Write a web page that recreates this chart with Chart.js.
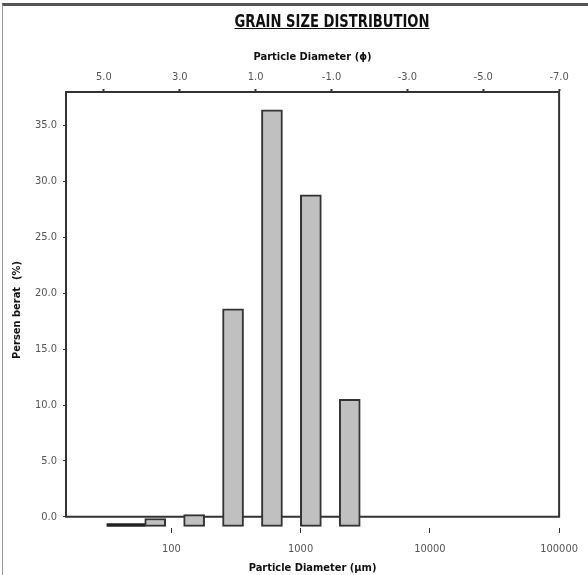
<!DOCTYPE html>
<html>

<head>
  <title>Grain Size Distribution</title>
  <script src="https://cdn.jsdelivr.net/npm/chart.js@4.4.0/dist/chart.umd.min.js"></script>
  <style>
    body { margin: 0; background: #fff; }
    #wrap { position: relative; width: 588px; height: 575px; overflow: hidden; }
    #chart { position: absolute; left: 0; top: 0; }
    /* outer frame of the original figure */
    #frame { position: absolute; left: 2px; top: 3px; right: -2px; bottom: -2px; border-top: 3px solid #555; border-left: 1px solid #999; pointer-events: none; }
    #title { position: absolute; top: 11px; left: 0; width: 664px; text-align: center; font: bold 17px 'Liberation Sans Narrow', 'Arial Narrow', 'DejaVu Sans Condensed', sans-serif; text-decoration: underline; color: #111; transform: scaleX(0.86); transform-origin: 332px 0; }
  </style>
</head>

<body>
  <div id="wrap">
    <canvas id="chart" width="588" height="575"></canvas>
    <div id="frame"></div>
    <div id="title">GRAIN SIZE DISTRIBUTION</div>
  </div>
  <script>
    // bar centres in micron and weight percent per class
    const sizeMicron = [75, 150, 300, 600, 1200, 2400];
    const weightPercent = [-0.15, 0.2, 18.6, 36.4, 28.8, 10.5];
    const barBase = -0.85; // bars hang a little below zero in the original
    // the flat dark bar at the fine end
    const panSize = [44.5];
    const panTop = [-0.6];

    const micronTicks = [100, 1000, 10000, 100000];
    const phiTicks = [5, 3, 1, -1, -3, -5, -7];
    const percentTicks = [0, 5, 10, 15, 20, 25, 30, 35];

    const narrow = "'Liberation Sans Narrow', 'Arial Narrow', 'DejaVu Sans Condensed', sans-serif";
    Chart.defaults.font.family = narrow;
    Chart.defaults.font.size = 11;

    var bars = sizeMicron.map(function (d, i) {
      return { x: d, y: [barBase, weightPercent[i]] };
    });
    var pan = panSize.map(function (d, i) {
      return { x: d, y: [barBase, panTop[i]] };
    });

    // plot box: top comes from the phi axis border, the rest stops at 0.0
    const plotBox = {
      id: 'plotBox',
      beforeDatasetsDraw: function (chart) {
        var a = chart.chartArea;
        var y0 = chart.scales.y.getPixelForValue(0);
        var ctx = chart.ctx;
        ctx.save();
        ctx.strokeStyle = '#333';
        ctx.lineWidth = 2;
        ctx.beginPath();
        ctx.moveTo(a.left, a.top);
        ctx.lineTo(a.left, y0);
        ctx.lineTo(a.right, y0);
        ctx.lineTo(a.right, a.top);
        ctx.stroke();
        ctx.restore();
      }
    };

    new Chart(document.getElementById('chart'), {
      type: 'bar',
      data: {
        datasets: [
          {
            label: 'Persen berat',
            data: bars,
            backgroundColor: '#c0c0c0',
            borderColor: '#333',
            borderWidth: 2,
            borderSkipped: false,
            barThickness: 21,
            grouped: false,
            xAxisID: 'x',
            yAxisID: 'y'
          },
          {
            label: 'pan',
            data: pan,
            backgroundColor: '#222',
            borderWidth: 0,
            barThickness: 38,
            grouped: false,
            xAxisID: 'x',
            yAxisID: 'y'
          }
        ]
      },
      options: {
        responsive: false,
        animation: false,
        devicePixelRatio: 1,
        layout: { padding: { top: 0, right: 28, bottom: 0, left: 0 } },
        plugins: {
          legend: { display: false },
          tooltip: { enabled: false }
        },
        scales: {
          x: {
            type: 'logarithmic',
            position: 'bottom',
            min: 15.3,
            max: 100000,
            offset: false,
            afterBuildTicks: function (s) {
              s.ticks = micronTicks.map(function (v) { return { value: v }; });
            },
            afterFit: function (s) { s.height = 47; },
            ticks: {
              color: '#555',
              padding: 10,
              maxRotation: 0,
              autoSkip: false,
              callback: function (v) { return String(v); }
            },
            grid: { offset: false, drawOnChartArea: false, tickLength: 5, tickColor: '#333', tickWidth: 1 },
            border: { display: false },
            title: {
              display: true,
              text: 'Particle Diameter (µm)',
              color: '#111',
              font: { weight: 'bold', size: 11 },
              padding: { top: 0, bottom: 0 }
            }
          },
          phi: {
            type: 'linear',
            axis: 'x',
            position: 'top',
            min: -7,
            max: 6,
            reverse: true,
            offset: false,
            afterBuildTicks: function (s) {
              s.ticks = phiTicks.map(function (v) { return { value: v }; });
            },
            afterFit: function (s) { s.height = 92; },
            ticks: {
              color: '#555',
              padding: 5,
              maxRotation: 0,
              autoSkip: false,
              callback: function (v) { return v.toFixed(1); }
            },
            grid: { offset: false, drawOnChartArea: false, tickLength: 3, tickColor: '#333', tickWidth: 2 },
            border: { display: true, color: '#333', width: 2 },
            title: {
              display: true,
              text: 'Particle Diameter (ϕ)',
              color: '#111',
              font: { weight: 'bold', size: 11 },
              padding: { top: 51, bottom: 0 }
            }
          },
          y: {
            type: 'linear',
            position: 'left',
            min: -1,
            max: 38,
            afterBuildTicks: function (s) {
              s.ticks = percentTicks.map(function (v) { return { value: v }; });
            },
            afterFit: function (s) { s.width = 66; },
            ticks: {
              color: '#555',
              padding: 6,
              callback: function (v) { return v.toFixed(1); }
            },
            grid: { drawOnChartArea: false, tickLength: 3, tickColor: '#333', tickWidth: 1 },
            border: { display: false },
            title: {
              display: true,
              text: 'Persen berat  (%)',
              color: '#111',
              font: { weight: 'bold', size: 11 },
              padding: { top: 11, bottom: 0 }
            }
          }
        }
      },
      plugins: [plotBox]
    });
  </script>
</body>

</html>
